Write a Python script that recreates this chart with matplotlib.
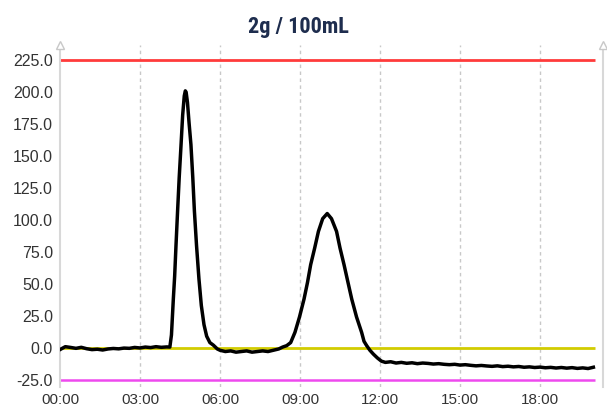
import matplotlib
matplotlib.use("Agg")
import matplotlib.pyplot as plt
from matplotlib import font_manager

# chromatogram trace (minutes, signal)
base1_t = [0.0, 0.2, 0.4, 0.6, 0.8, 1.0, 1.2, 1.4, 1.6, 1.8, 2.0, 2.2, 2.4,
           2.6, 2.8, 3.0, 3.2, 3.4, 3.6, 3.8, 4.0]
base1_v = [-1.5, 0.8, 0.2, -0.5, 0.3, -0.8, -1.5, -1.2, -1.8, -1.0, -0.6, -0.9,
           -0.3, -0.5, 0.2, -0.2, 0.5, 0.1, 0.8, 0.3, 0.6]

peak1_t = [4.12, 4.18, 4.25, 4.30, 4.35, 4.41, 4.47, 4.54, 4.60, 4.66, 4.70,
           4.73, 4.78, 4.84, 4.91, 4.98, 5.04, 5.12, 5.21, 5.30, 5.40, 5.50,
           5.62, 5.75, 5.90]
peak1_v = [0.5, 10, 38, 56, 80, 107, 133, 159, 182, 197, 201,
           200, 192, 176, 159, 133, 107, 80, 54, 33, 18, 9,
           4, 2, -1]

base2_t = [6.0, 6.2, 6.4, 6.6, 6.8, 7.0, 7.2, 7.4, 7.6, 7.8, 8.0, 8.2, 8.35, 8.5]
base2_v = [-2, -3, -2.5, -3.5, -3, -2.5, -3.5, -3, -2.5, -3, -2, -1, 0.5, 1.6]

peak2_t = [8.65, 8.81, 8.98, 9.15, 9.28, 9.40, 9.55, 9.69, 9.85, 10.02, 10.18,
           10.37, 10.50, 10.65, 10.80, 10.94, 11.12, 11.31, 11.40, 11.50, 11.62,
           11.75, 11.90, 12.05, 12.2, 12.4]
peak2_v = [4, 12, 24, 38, 51, 65, 78, 91, 101, 105, 101,
           91, 78, 65, 51, 38, 24, 12, 5, 1.6, -2,
           -5, -8, -10.5, -11.5, -11]

tail_t = [12.6, 12.8, 13.0, 13.2, 13.4, 13.6, 13.8, 14.0, 14.2, 14.4, 14.6,
          14.8, 15.0, 15.2, 15.4, 15.6, 15.8, 16.0, 16.2, 16.4, 16.6, 16.8,
          17.0, 17.2, 17.4, 17.6, 17.8, 18.0, 18.2, 18.4, 18.6, 18.8, 19.0,
          19.2, 19.4, 19.6, 19.8, 20.0]
tail_v = [-12, -11.5, -12.2, -11.8, -12.5, -12, -12.3, -12.8, -12.5, -13, -13.3,
          -13, -13.6, -13.3, -13.8, -14.2, -13.9, -14.3, -14.6, -14.2, -14.8, -14.5,
          -15, -14.7, -15.3, -15, -15.5, -15.2, -15.7, -15.4, -15.9, -15.5, -16,
          -15.6, -16.2, -15.8, -16.3, -15.3]

limit_high = 225
limit_zero = 0
limit_low = -25

y_ticks = [-25, 0, 25, 50, 75, 100, 125, 150, 175, 200, 225]
x_ticks = [0, 3, 6, 9, 12, 15, 18]
x_labels = ["00:00", "03:00", "06:00", "09:00", "12:00", "15:00", "18:00"]

title_text = "2g / 100mL"

t = base1_t + peak1_t + base2_t + peak2_t + tail_t
v = base1_v + peak1_v + base2_v + peak2_v + tail_v

names = {f.name for f in font_manager.fontManager.ttflist}
title_font = "Roboto Condensed" if "Roboto Condensed" in names else "Roboto"
tick_font = "Liberation Sans"

fig = plt.figure(figsize=(6.07, 4.08), dpi=100)
ax = fig.add_axes([0.0988, 0.0515, 0.8946, 0.8382])

ax.set_xlim(0, 20.36)
ax.set_ylim(-30.75, 236.9)

for xt in x_ticks[1:]:
    ax.axvline(xt, color="#c8c8c8", lw=1, ls=(0, (2.5, 2.5)), zorder=1)

ax.hlines(limit_high, 0, 20.06, color="#ff3b3b", lw=2, zorder=2)
ax.hlines(limit_zero, 0, 20.06, color="#d2cc00", lw=2, zorder=2)
ax.hlines(limit_low, 0, 20.06, color="#ee4aee", lw=1.8, zorder=2)

ax.plot(t, v, color="black", lw=2.5, zorder=3, solid_joinstyle="round")

for s in ["top", "bottom"]:
    ax.spines[s].set_visible(False)
for s in ["left", "right"]:
    ax.spines[s].set_color("#d8d8d8")
    ax.spines[s].set_linewidth(1.5)

# open arrow heads on top of the two vertical axes
for xa in [0, 1]:
    ax.plot([xa], [1.0], marker="^", ms=6, mfc="white", mec="#c8c8c8",
            mew=1, transform=ax.transAxes, clip_on=False, zorder=5)

ax.set_yticks(y_ticks)
ax.set_yticklabels([f"{y:.1f}" for y in y_ticks])
ax.set_xticks(x_ticks)
ax.set_xticklabels(x_labels)
ax.tick_params(length=0, colors="#333333", labelsize=11.5, pad=5)
ax.tick_params(axis="x", pad=4, labelsize=11)
for lab in ax.get_xticklabels() + ax.get_yticklabels():
    lab.set_fontfamily(tick_font)

fig.text(0.492, 0.935, title_text, ha="center", va="center", fontsize=16,
         fontweight="bold", color="#1e2d4e", family=title_font)

fig.savefig("out.png", dpi=100)
